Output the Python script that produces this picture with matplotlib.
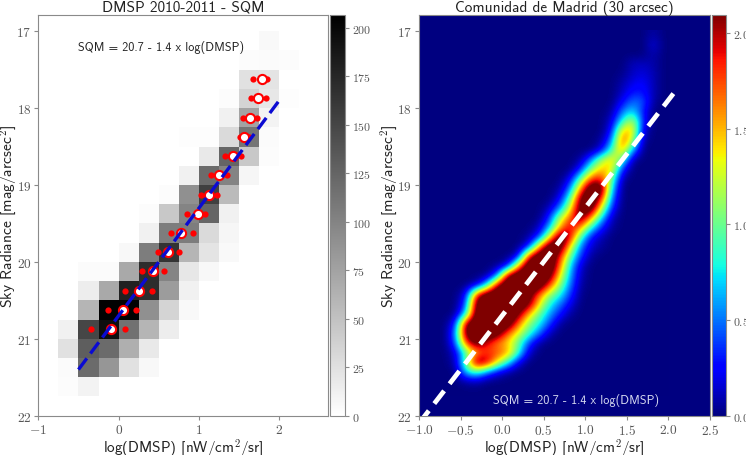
import numpy as np
import matplotlib
matplotlib.use("Agg")
import matplotlib.pyplot as plt

plt.rcParams['mathtext.fontset'] = 'cm'
GREY = '#555555'
EDGE = '#8a8a8a'

# left panel: counts per bin, rows go from sqm 17.0 down to 21.75 in 0.25 steps
# columns go from log(dmsp) -0.75 to 2.25
x_edges = np.arange(-0.75, 2.26, 0.25)
y_edges = np.arange(17.0, 21.76, 0.25)
counts = [
    [0, 0, 0, 0, 0, 0, 0, 0, 0, 0, 5, 0],
    [0, 0, 0, 0, 0, 0, 0, 0, 0, 3, 4, 3],
    [0, 0, 0, 0, 0, 0, 0, 0, 0, 25, 22, 0],
    [0, 0, 0, 0, 0, 0, 0, 0, 3, 35, 20, 2],
    [0, 0, 0, 0, 0, 0, 0, 0, 12, 75, 10, 0],
    [0, 0, 0, 0, 0, 0, 2, 2, 30, 112, 4, 0],
    [0, 0, 0, 0, 0, 0, 0, 18, 125, 45, 3, 0],
    [0, 0, 0, 0, 0, 0, 12, 120, 100, 8, 0, 0],
    [0, 0, 0, 0, 0, 3, 90, 155, 55, 0, 0, 0],
    [0, 0, 0, 0, 3, 45, 100, 125, 12, 0, 0, 0],
    [0, 0, 0, 0, 12, 105, 105, 30, 8, 0, 0, 0],
    [0, 0, 0, 6, 105, 165, 60, 22, 5, 0, 0, 0],
    [0, 4, 4, 70, 170, 100, 20, 6, 0, 0, 0, 0],
    [0, 15, 70, 180, 170, 80, 12, 0, 0, 0, 0, 0],
    [0, 60, 205, 205, 90, 35, 5, 0, 0, 0, 0, 0],
    [12, 150, 195, 115, 60, 15, 0, 0, 0, 0, 0, 0],
    [25, 130, 120, 65, 18, 0, 0, 0, 0, 0, 0, 0],
    [4, 120, 85, 25, 6, 0, 0, 0, 0, 0, 0, 0],
    [3, 10, 0, 0, 0, 0, 0, 0, 0, 0, 0, 0],
]

# medians and the side points, one set per sqm bin
sqm_centres = [17.625, 17.875, 18.125, 18.375, 18.625, 18.875, 19.125, 19.375,
               19.625, 19.875, 20.125, 20.375, 20.625, 20.875]
median_x = [1.78, 1.735, 1.64, 1.565, 1.42, 1.255, 1.12, 0.985,
            0.776, 0.615, 0.428, 0.25, 0.055, -0.10]
low_x = [1.67, 1.65, 1.545, 1.51, 1.33, 1.15, 1.02, 0.855,
         0.65, 0.49, 0.29, 0.08, -0.13, -0.34]
high_x = [1.85, 1.84, 1.72, 1.62, 1.52, 1.35, 1.23, 1.08,
          0.93, 0.75, 0.565, 0.42, 0.22, 0.08]

fit_left_x = [-0.5, 2.0]
fit_left_y = [21.4, 17.9]
fit_right_x = [-1.0, 2.1]
fit_right_y = [22.1, 17.76]

# right panel: density read by eye, 0.125 x 0.125 cells from (-0.75, 17.0)
# each row is (first non zero column, values), 2.5 means saturated
density_rows = [
    (20, [.08]),
    (20, [.18]),
    (20, [.10]),
    (18, [.12, .12, .08]),
    (17, [.02, .12, .18, .10]),
    (17, [.08, .20, .25, .10]),
    (17, [.12, .30, .30, .10]),
    (17, [.25, .50, .45, .05]),
    (16, [.05, .50, .75, .30]),
    (16, [.15, .80, 1.3, .30]),
    (16, [.25, 1.5, 1.5, .15]),
    (15, [.05, .50, 1.8, 1.2, .05]),
    (15, [.20, .90, 1.6, .60]),
    (13, [.05, .50, 1.2, 1.5, .90, .05]),
    (13, [.30, 1.1, 1.5, 1.4, .30]),
    (12, [.20, 1.0, 1.8, 1.9, 1.0, .05]),
    (11, [.05, .50, 1.6, 2.5, 2.4, .70]),
    (11, [.20, .90, 2.2, 2.5, 1.9, .50]),
    (10, [.10, .50, 1.3, 2.3, 2.4, 1.3, .30]),
    (10, [.30, 1.2, 1.7, 2.3, 1.6, .70, .10]),
    (9, [.10, .60, 1.5, 2.0, 1.6, .80, .30, .05]),
    (8, [.05, .30, 1.3, 2.4, 2.0, .90, .25, .10]),
    (8, [.20, 1.5, 2.5, 2.4, 1.4, .50, .15, .05]),
    (7, [.10, 1.9, 2.5, 2.5, 1.9, 1.0, .35, .05]),
    (5, [.02, .15, 1.5, 2.5, 2.5, 2.5, 1.7, .70, .15]),
    (4, [.02, .40, 2.2, 2.5, 2.5, 2.5, 2.3, 1.4, .60, .10]),
    (3, [.10, .70, 2.1, 2.5, 2.5, 2.5, 2.4, 1.8, 1.1, .50, .05]),
    (2, [.20, 1.9, 2.5, 2.5, 2.5, 2.5, 2.3, 1.7, 1.1, .80, .35, .02]),
    (2, [.40, 2.3, 2.5, 2.5, 2.5, 2.4, 2.2, 1.4, .80, .50, .20]),
    (1, [.02, .70, 2.4, 2.5, 2.5, 2.5, 2.2, 1.5, 1.0, .60, .30, .05]),
    (1, [.30, 2.2, 2.5, 2.5, 2.5, 2.4, 1.7, 1.1, .80, .40, .05]),
    (1, [.50, 2.3, 2.5, 2.5, 2.3, 1.7, 1.3, .90, .50, .10]),
    (1, [.40, 1.8, 2.3, 1.9, 1.6, 1.4, 1.0, .40, .05]),
    (1, [.15, .90, 1.5, 1.8, 1.75, 1.6, .90, .15]),
    (1, [.10, 1.0, 2.3, 2.1, 1.4, .80, .20]),
    (2, [.70, .90, .50, .20, .05]),
    (2, [.05, .08]),
    (0, [0]),
]

W, H = 746.0, 456.0


def box(x0, x1, top, bottom):
    return [x0/W, 1 - bottom/H, (x1 - x0)/W, (bottom - top)/H]


def style(ax, size=9.6):
    for s in ax.spines.values():
        s.set_color(EDGE)
        s.set_linewidth(0.8)
    ax.tick_params(labelcolor=GREY, length=3, width=0.8, color=EDGE, labelsize=size, pad=2)


def math_labels(ticks, fmt):
    return ['$%s$' % (fmt % t) for t in ticks]


def labels(ax, title):
    ax.set_xlabel('log(DMSP) [nW/cm$^2$/sr]', family='cmss10', fontsize=10.9, color='#222222')
    ax.set_ylabel('Sky Radiance [mag/arcsec$^2$]', family='cmss10', fontsize=11.2, color='#222222')
    ax.xaxis.set_label_coords(0.5, -0.053)
    ax.set_title(title, family='cmss10', fontsize=11, color='#222222', pad=3)


density = np.zeros((len(density_rows), 22))
for row, (start, values) in enumerate(density_rows):
    density[row, start:start + len(values)] = values

fig = plt.figure(figsize=(7.46, 4.56), dpi=100)

# left panel
ax0 = fig.add_axes(box(38.3, 328.3, 16, 416.7))
mesh = ax0.pcolormesh(x_edges, y_edges, np.array(counts), cmap='gray_r', vmin=0, vmax=206.7)
ax0.plot(low_x, sqm_centres, 'o', color='red', ms=4.5, mew=0, zorder=3)
ax0.plot(high_x, sqm_centres, 'o', color='red', ms=4.5, mew=0, zorder=3)
ax0.plot(median_x, sqm_centres, 'o', mfc='white', mec='red', ms=6.6, mew=1.5, zorder=4)
ax0.plot(fit_left_x, fit_left_y, '--', color='#0a0ad2', lw=2.4, dashes=(4.2, 1.8), zorder=5)
ax0.set_xlim(-1, 2.61)
ax0.set_ylim(22, 16.79)
ax0.set_xticks([-1, 0, 1, 2])
ax0.set_xticklabels(math_labels([-1, 0, 1, 2], '%d'))
ax0.set_yticks([17, 18, 19, 20, 21, 22])
ax0.set_yticklabels(math_labels([17, 18, 19, 20, 21, 22], '%d'))
labels(ax0, 'DMSP 2010-2011 - SQM')
ax0.yaxis.set_label_coords(-0.068, 0.5)
ax0.text(-0.5, 17.2, 'SQM = 20.7 - 1.4 x log(DMSP)', family='cmss10', fontsize=8.8,
         color='#222222', va='center')
style(ax0)

cax0 = fig.add_axes(box(330, 345, 16, 416.7))
cb0 = fig.colorbar(mesh, cax=cax0)
cb0.set_ticks(range(0, 201, 25))
cb0.set_ticklabels(math_labels(range(0, 201, 25), '%d'))
style(cax0, 8.6)
cb0.outline.set_edgecolor(EDGE)
cb0.outline.set_linewidth(0.8)

# right panel
ax1 = fig.add_axes(box(419, 709.7, 16, 416.7))
ax1.set_facecolor(plt.get_cmap('jet')(0))
im = ax1.imshow(density, cmap='jet', vmin=0, vmax=2.093, interpolation='bicubic',
                extent=[-0.75, 2.0, 21.75, 17.0], aspect='auto')
ax1.plot(fit_right_x, fit_right_y, '--', color='white', lw=3.4, dashes=(3.4, 1.9), zorder=5)
ax1.set_xlim(-1, 2.5)
ax1.set_ylim(22, 16.79)
xt = [-1.0, -0.5, 0.0, 0.5, 1.0, 1.5, 2.0, 2.5]
ax1.set_xticks(xt)
ax1.set_xticklabels(math_labels(xt, '%.1f'))
ax1.set_yticks([17, 18, 19, 20, 21, 22])
ax1.set_yticklabels(math_labels([17, 18, 19, 20, 21, 22], '%d'))
labels(ax1, 'Comunidad de Madrid (30 arcsec)')
ax1.yaxis.set_label_coords(-0.065, 0.5)
ax1.text(-0.108, 21.79, 'SQM = 20.7 - 1.4 x log(DMSP)', family='cmss10', fontsize=8.8,
         color='#d5d9f0', va='center')
style(ax1)

cax1 = fig.add_axes(box(711.7, 726.3, 16, 416.7))
cb1 = fig.colorbar(im, cax=cax1)
cb1.set_ticks([0, 0.5, 1.0, 1.5, 2.0])
cb1.set_ticklabels(math_labels([0, 0.5, 1.0, 1.5, 2.0], '%.1f'))
style(cax1, 8.6)
cb1.outline.set_edgecolor(EDGE)
cb1.outline.set_linewidth(0.8)

fig.savefig('out.png', dpi=100)
